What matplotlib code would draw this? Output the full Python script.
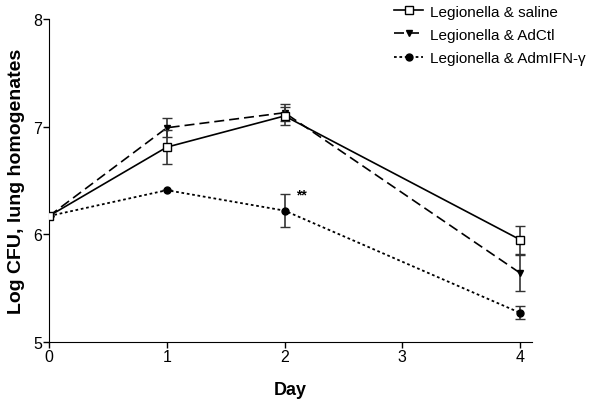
import numpy as np
import matplotlib
matplotlib.use("Agg")
import matplotlib.pyplot as plt
from matplotlib.lines import Line2D

plt.rcParams['font.family'] = ['Liberation Sans', 'DejaVu Sans']

# data
days = [0, 1, 2, 4]
saline = [6.17, 6.81, 7.10, 5.95]
saline_err = [0, 0.16, 0.08, 0.13]
adctl = [6.17, 6.99, 7.13, 5.64]
adctl_err = [0, 0.09, 0.08, 0.17]
ifn = [6.17, 6.41, 6.22, 5.27]
ifn_err = [0, 0, 0.15, 0.06]

labels = ['Legionella & saline', 'Legionella & AdCtl', 'Legionella & AdmIFN-\u03b3']

fig = plt.figure(figsize=(5.91, 4.02), dpi=100)
ax = fig.add_axes([0.083, 0.147, 0.817, 0.803])

styles = [
    dict(ls='-', lw=1.2, marker='s', ms=6, mfc='white', mew=1.0),
    dict(ls=(0, (6, 3)), lw=1.2, marker='v', ms=5, mfc='black', mew=1.0),
    dict(ls=(0, (1.5, 1.5)), lw=1.3, marker='o', ms=5, mfc='black', mew=1.0),
]
series = [(saline, saline_err), (adctl, adctl_err), (ifn, ifn_err)]

for (vals, errs), st, z in zip(series, styles, [3, 2, 2]):
    ax.errorbar(days, vals, yerr=errs, color='black', mec='black',
                ecolor='#333333', elinewidth=1.2, capsize=3.5, capthick=1.2,
                zorder=z, **st)

ax.text(2.1, 6.37, '**', fontsize=10, fontweight='bold', ha='left', va='center')

ax.set_xlim(0, 4.1)
ax.set_ylim(5, 8)
ax.set_xticks([0, 1, 2, 3, 4])
ax.set_yticks([5, 6, 7, 8])
ax.spines['top'].set_visible(False)
ax.spines['right'].set_visible(False)
ax.tick_params(direction='out', length=4, width=1, labelsize=11.5, pad=1)
ax.set_xlabel('Day', fontsize=13, fontweight='bold', labelpad=12)
ax.set_ylabel('Log CFU, lung homogenates', fontsize=14, fontweight='bold', labelpad=6)

handles = [Line2D([], [], color='black', mec='black', **st) for st in styles]
ax.legend(handles, labels, loc='upper left', bbox_to_anchor=(0.715, 1.045),
          frameon=False, fontsize=11, handlelength=1.9, handletextpad=0.45,
          labelspacing=0.6, borderaxespad=0, borderpad=0)

fig.savefig('out.png', dpi=100)
